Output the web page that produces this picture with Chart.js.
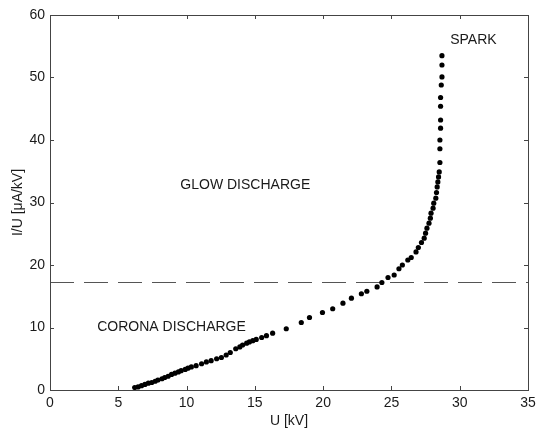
<!DOCTYPE html>
<html>
<head>
<meta charset="utf-8">
<script src="https://cdn.jsdelivr.net/npm/chart.js@4"></script>
<style>
  html, body { margin: 0; padding: 0; background: #fff; }
  #wrap { width: 537px; height: 430px; }
</style>
</head>
<body>
<div id="wrap"><canvas id="dischargeChart" width="537" height="430"></canvas></div>
<script>
// U [kV]
const voltage = [6.2, 6.45, 6.7, 6.95, 7.2, 7.45, 7.7, 7.9, 8.2, 8.4, 8.65, 8.9, 9.15, 9.4, 9.6, 9.9,
    10.1, 10.35, 10.7, 11.1, 11.45, 11.8, 12.2, 12.55, 12.9, 13.2, 13.6, 13.9, 14.1, 14.4, 14.6,
    14.85, 15.1, 15.5, 15.85, 16.3, 17.3, 18.4, 19.0, 19.95, 20.7, 21.45, 22.07, 22.8, 23.2, 23.95,
    24.3, 24.75, 25.2, 25.55, 25.8, 26.2, 26.45, 26.8, 26.97, 27.2, 27.4, 27.5, 27.6, 27.75, 27.85,
    27.9, 28.05, 28.1, 28.25, 28.3, 28.35, 28.4, 28.45, 28.5, 28.55, 28.55, 28.55, 28.6, 28.6,
    28.6, 28.6, 28.65, 28.7, 28.7, 28.7];
// I/U [µA/kV]
const currentRatio = [0.4, 0.5, 0.7, 0.9, 1.1, 1.2, 1.4, 1.6, 1.8, 2.0, 2.2, 2.5, 2.7, 2.9, 3.1, 3.3,
    3.5, 3.7, 3.9, 4.2, 4.5, 4.7, 5.0, 5.2, 5.6, 6.0, 6.6, 6.9, 7.2, 7.5, 7.7,
    7.9, 8.1, 8.4, 8.7, 9.1, 9.8, 10.8, 11.6, 12.4, 13.0, 13.9, 14.7, 15.4, 15.8, 16.5,
    17.2, 18.0, 18.4, 19.4, 20.0, 20.8, 21.2, 22.1, 22.8, 23.6, 24.3, 25.1, 25.9, 26.7, 27.5,
    28.3, 29.1, 29.9, 30.7, 31.6, 32.5, 33.3, 34.1, 34.9, 36.4, 38.6, 40.0, 41.9, 43.2,
    45.4, 46.8, 48.8, 50.1, 52.0, 53.5];

const boundaryLevel = 17.2;
const xRange = [0, 35];
const regionLabels = [
    { text: "GLOW DISCHARGE", x: 14.3, y: 32.8 },
    { text: "CORONA DISCHARGE", x: 8.9, y: 10.1 },
    { text: "SPARK", x: 31.0, y: 56.0 }
];

const points = voltage.map((u, i) => ({ x: u, y: currentRatio[i] }));
const FONT = "'Liberation Sans', Arial, sans-serif";

// frame, inward ticks, labels
const framePlugin = {
    id: 'frame',
    afterDraw(chart) {
        const { ctx, chartArea: a, scales: { x, y } } = chart;
        ctx.save();
        ctx.strokeStyle = '#444';
        ctx.lineWidth = 1;
        ctx.strokeRect(a.left + 0.5, a.top + 0.5, a.right - a.left, a.bottom - a.top);
        ctx.beginPath();
        x.ticks.forEach(t => {
            const px = Math.round(x.getPixelForValue(t.value)) + 0.5;
            ctx.moveTo(px, a.bottom); ctx.lineTo(px, a.bottom - 4);
            ctx.moveTo(px, a.top); ctx.lineTo(px, a.top + 4);
        });
        y.ticks.forEach(t => {
            const py = Math.round(y.getPixelForValue(t.value)) + 0.5;
            ctx.moveTo(a.left, py); ctx.lineTo(a.left + 4, py);
            ctx.moveTo(a.right, py); ctx.lineTo(a.right - 4, py);
        });
        ctx.stroke();
        ctx.fillStyle = '#1a1a1a';
        ctx.font = '14px ' + FONT;
        ctx.textAlign = 'center';
        ctx.textBaseline = 'middle';
        regionLabels.forEach(l => {
            ctx.fillText(l.text, x.getPixelForValue(l.x), y.getPixelForValue(l.y));
        });
        ctx.restore();
    }
};

new Chart(document.getElementById('dischargeChart'), {
    type: 'scatter',
    data: {
        datasets: [{
            label: 'I/U',
            data: points,
            pointRadius: 2.6,
            pointBackgroundColor: '#000',
            pointBorderWidth: 0,
            showLine: false,
            order: 1
        }, {
            label: 'boundary',
            data: xRange.map(u => ({ x: u, y: boundaryLevel })),
            showLine: true,
            borderColor: '#555',
            borderWidth: 1.2,
            borderDash: [24, 10],
            pointRadius: 0,
            order: 2
        }]
    },
    options: {
        responsive: false,
        animation: false,
        layout: { padding: { top: 15, right: 9, left: 0, bottom: 0 } },
        plugins: { legend: { display: false }, tooltip: { enabled: false } },
        scales: {
            x: {
                type: 'linear',
                min: 0, max: 35,
                ticks: { stepSize: 5, color: '#1a1a1a', font: { family: FONT, size: 14 }, padding: 5 },
                grid: { drawOnChartArea: false, drawTicks: false },
                border: { display: false },
                title: { display: true, text: 'U [kV]', color: '#1a1a1a', font: { family: FONT, size: 14 }, padding: { top: 0, bottom: 0 } },
                afterFit(s) { s.height = 40; s.paddingRight = 0; s.paddingLeft = 0; }
            },
            y: {
                min: 0, max: 60,
                ticks: { stepSize: 10, color: '#1a1a1a', font: { family: FONT, size: 14 }, padding: 5 },
                grid: { drawOnChartArea: false, drawTicks: false },
                border: { display: false },
                title: { display: true, text: 'I/U [μA/kV]', color: '#1a1a1a', font: { family: FONT, size: 14 }, padding: { top: 10, bottom: 0 } },
                afterFit(s) { s.width = 50; s.paddingTop = 0; s.paddingBottom = 0; }
            }
        }
    },
    plugins: [framePlugin]
});
</script>
</body>
</html>
